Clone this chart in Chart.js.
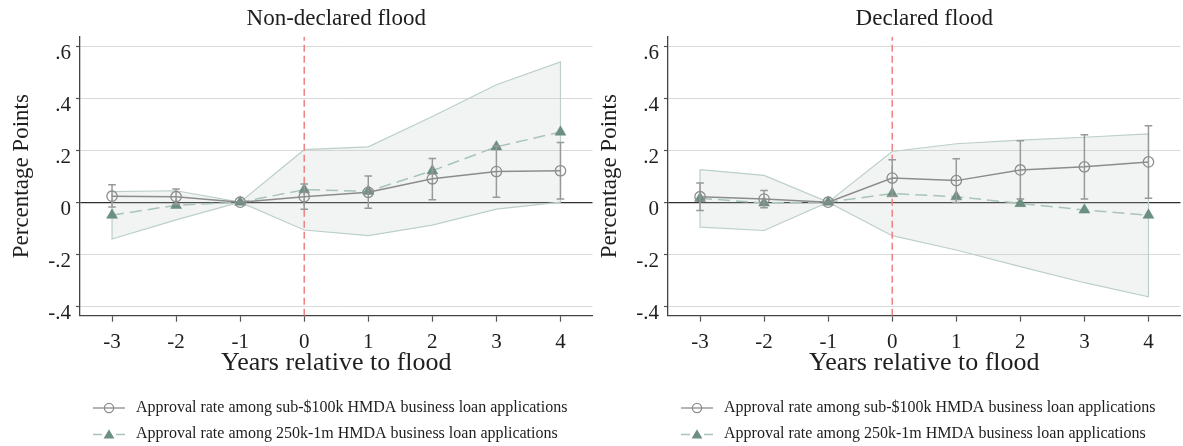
<!DOCTYPE html>
<html>
<head>
<meta charset="utf-8">
<script src="https://cdn.jsdelivr.net/npm/chart.js@4.4.1/dist/chart.umd.min.js"></script>
<style>
  html, body { margin: 0; padding: 0; background: #fff; overflow: hidden; width: 1183px; height: 446px; }
  canvas { position: absolute; top: 0; }
  #panelLeft { left: 0; }
  #panelRight { left: 588px; }
</style>
</head>
<body>
<canvas id="panelLeft" width="600" height="452"></canvas>
<canvas id="panelRight" width="600" height="452"></canvas>
<script>
// ---- shared axis content ----
const years = [-3, -2, -1, 0, 1, 2, 3, 4];
const eventYear = 0;
const xRange = [-3.5, 4.5];
const yRange = [-0.437, 0.637];
const yTickValues = [-0.4, -0.2, 0, 0.2, 0.4, 0.6];
const yTickLabels = ['-.4', '-.2', '0', '.2', '.4', '.6'];
const xTitle = 'Years relative to flood';
const yTitle = 'Percentage Points';
const seriesNames = [
  'Approval rate among sub-$100k HMDA business loan applications',
  'Approval rate among 250k-1m HMDA business loan applications'
];

// ---- Non-declared flood ----
const ndTitle = 'Non-declared flood';
const ndSmall   = [0.023, 0.021, 0, 0.021, 0.038, 0.090, 0.118, 0.121];
const ndSmallLo = [-0.019, -0.008, null, -0.027, -0.023, 0.009, 0.019, 0.012];
const ndSmallHi = [0.067, 0.051, null, 0.070, 0.101, 0.168, 0.217, 0.230];
const ndLarge   = [-0.050, -0.012, 0, 0.048, 0.042, 0.121, 0.213, 0.270];
const ndLargeLo = [-0.142, -0.068, 0, -0.107, -0.129, -0.088, -0.027, 0.000];
const ndLargeHi = [0.041, 0.044, 0, 0.202, 0.213, 0.330, 0.452, 0.540];

// ---- Declared flood ----
const dTitle = 'Declared flood';
const dSmall   = [0.021, 0.012, 0, 0.093, 0.083, 0.124, 0.136, 0.155];
const dSmallLo = [-0.032, -0.021, null, 0.023, -0.001, 0.012, 0.012, 0.015];
const dSmallHi = [0.074, 0.045, null, 0.163, 0.167, 0.236, 0.260, 0.294];
const dLarge   = [0.015, -0.003, 0, 0.033, 0.021, -0.005, -0.030, -0.050];
const dLargeLo = [-0.096, -0.109, 0, -0.129, -0.184, -0.248, -0.310, -0.364];
const dLargeHi = [0.125, 0.103, 0, 0.195, 0.225, 0.239, 0.250, 0.263];

// ---- styling ----
const FONT = "'Liberation Serif', 'Times New Roman', serif";
const TEXT = '#1e1e1e';
const GRAY = '#8c8c8c';
const CI_GRAY = '#999999';
const GREEN = '#6b8f81';
const GREEN_LINE = '#a9c4b8';
const BAND_FILL = 'rgba(190, 206, 199, 0.22)';
const BAND_EDGE = '#bcd0c6';
const EVENT_RED = '#f08080';

// ---- helpers building library data from the arrays ----
const toPoints = ys => years.map((x, i) => ({ x, y: ys[i] }));

function whiskers(lo, hi) {
  const out = [];
  years.forEach((x, i) => {
    if (lo[i] === null || hi[i] === null) return;
    out.push({ x, y: lo[i] }, { x, y: hi[i] }, { x, y: null });
  });
  return out;
}

function bandOutline(lo, hi) {
  const upper = years.map((x, i) => ({ x, y: hi[i] }));
  const lower = years.map((x, i) => ({ x, y: lo[i] })).reverse();
  return [...upper, ...lower, upper[0]];
}

// small legend glyphs: line with marker
function glyph(kind) {
  const c = document.createElement('canvas');
  c.width = 32; c.height = 14;
  const g = c.getContext('2d');
  if (kind === 'circle') {
    g.strokeStyle = GRAY; g.lineWidth = 1.3;
    g.beginPath(); g.moveTo(0, 7); g.lineTo(32, 7); g.stroke();
    g.beginPath(); g.arc(16, 7, 4.6, 0, Math.PI * 2); g.stroke();
  } else {
    g.strokeStyle = GREEN_LINE; g.lineWidth = 1.5;
    g.beginPath(); g.moveTo(0, 7.5); g.lineTo(9, 7.5); g.moveTo(23, 7.5); g.lineTo(32, 7.5); g.stroke();
    g.fillStyle = GREEN;
    const r = 6.2;
    g.beginPath();
    g.moveTo(16, 8.5 - r);
    g.lineTo(16 + r * Math.sin(2 * Math.PI / 3), 8.5 + r / 2);
    g.lineTo(16 - r * Math.sin(2 * Math.PI / 3), 8.5 + r / 2);
    g.closePath(); g.fill();
  }
  return c;
}
const glyphCircle = glyph('circle');
const glyphTriangle = glyph('triangle');

function makePanel(canvasId, title, small, smallLo, smallHi, large, largeLo, largeHi) {
  const ctx = document.getElementById(canvasId);
  return new Chart(ctx, {
    type: 'line',
    data: {
      datasets: [
        {
          label: seriesNames[0],
          data: toPoints(small),
          borderColor: GRAY,
          borderWidth: 1.5,
          pointStyle: 'circle',
          pointRadius: 5.2,
          pointBorderWidth: 1.3,
          pointBorderColor: GRAY,
          pointBackgroundColor: 'rgba(255,255,255,0)',
          fill: false,
          order: 1
        },
        {
          label: 'ci-small',
          data: whiskers(smallLo, smallHi),
          borderColor: CI_GRAY,
          borderWidth: 1.5,
          pointStyle: 'line',
          pointRadius: 3.8,
          pointBorderWidth: 1.5,
          pointBorderColor: CI_GRAY,
          fill: false,
          order: 2
        },
        {
          label: seriesNames[1],
          data: toPoints(large),
          borderColor: GREEN_LINE,
          borderWidth: 1.5,
          borderDash: [12, 6],
          pointStyle: 'triangle',
          pointRadius: 6.3,
          pointBorderWidth: 0.5,
          pointBorderColor: GREEN,
          pointBackgroundColor: GREEN,
          fill: false,
          order: 3
        },
        {
          label: 'event',
          data: [{ x: eventYear, y: yRange[0] }, { x: eventYear, y: yRange[1] }],
          borderColor: EVENT_RED,
          borderWidth: 1.5,
          borderDash: [7, 4],
          pointRadius: 0,
          fill: false,
          order: 4
        },
        {
          label: 'band-large',
          data: bandOutline(largeLo, largeHi),
          borderColor: BAND_EDGE,
          borderWidth: 1.2,
          backgroundColor: BAND_FILL,
          pointRadius: 0,
          fill: 'shape',
          order: 5
        }
      ]
    },
    options: {
      responsive: false,
      animation: false,
      devicePixelRatio: 1,
      layout: { padding: { left: 0, right: 7.5, top: 0, bottom: 0 } },
      scales: {
        x: {
          type: 'linear',
          min: xRange[0],
          max: xRange[1],
          afterBuildTicks: s => { s.ticks = years.map(v => ({ value: v })); },
          afterFit: s => { s.height = 74.3; },
          ticks: {
            callback: v => String(v),
            font: { family: FONT, size: 21 },
            color: TEXT,
            padding: 8.6,
            maxRotation: 0,
            autoSkip: false
          },
          grid: { drawOnChartArea: false, drawTicks: true, tickLength: 6, tickColor: '#555', tickWidth: 1.2 },
          border: { display: true, color: '#444', width: 1.3 },
          title: {
            display: true,
            text: xTitle,
            font: { family: FONT, size: 26 },
            color: TEXT,
            padding: { top: 0, bottom: 11.5 }
          }
        },
        y: {
          type: 'linear',
          min: yRange[0],
          max: yRange[1],
          afterBuildTicks: s => { s.ticks = yTickValues.map(v => ({ value: v })); },
          afterFit: s => { s.width = 80; },
          ticks: {
            callback: v => yTickLabels[yTickValues.indexOf(v)],
            font: { family: FONT, size: 21 },
            color: TEXT,
            padding: 5,
            labelOffset: 7.5,
            autoSkip: false
          },
          grid: {
            color: c => (c.tick && c.tick.value === 0 ? '#2e2e2e' : '#d9d9d9'),
            lineWidth: c => (c.tick && c.tick.value === 0 ? 1.2 : 1),
            tickLength: 4,
            tickColor: '#555',
            tickWidth: 1.2
          },
          border: { display: true, color: '#444', width: 1.3 },
          title: {
            display: true,
            text: yTitle,
            font: { family: FONT, size: 23 },
            color: TEXT,
            padding: { top: 7.7, bottom: 0 }
          }
        }
      },
      plugins: {
        tooltip: { enabled: false },
        title: {
          display: true,
          text: title,
          fullSize: false,
          font: { family: FONT, size: 23, weight: 'normal' },
          color: TEXT,
          padding: { top: 5.1, bottom: 4 }
        },
        legend: {
          display: true,
          position: 'bottom',
          align: 'start',
          fullSize: false,
          labels: {
            font: { family: FONT, size: 16 },
            color: TEXT,
            usePointStyle: true,
            pointStyleWidth: 38,
            boxHeight: 16,
            padding: 10,
            generateLabels: () => [
              { text: seriesNames[0], pointStyle: glyphCircle, fillStyle: GRAY, strokeStyle: GRAY, lineWidth: 0, hidden: false, datasetIndex: 0, fontColor: TEXT },
              { text: seriesNames[1], pointStyle: glyphTriangle, fillStyle: GREEN, strokeStyle: GREEN, lineWidth: 0, hidden: false, datasetIndex: 2, fontColor: TEXT }
            ]
          }
        }
      }
    }
  });
}

makePanel('panelLeft', ndTitle, ndSmall, ndSmallLo, ndSmallHi, ndLarge, ndLargeLo, ndLargeHi);
makePanel('panelRight', dTitle, dSmall, dSmallLo, dSmallHi, dLarge, dLargeLo, dLargeHi);
</script>
</body>
</html>
